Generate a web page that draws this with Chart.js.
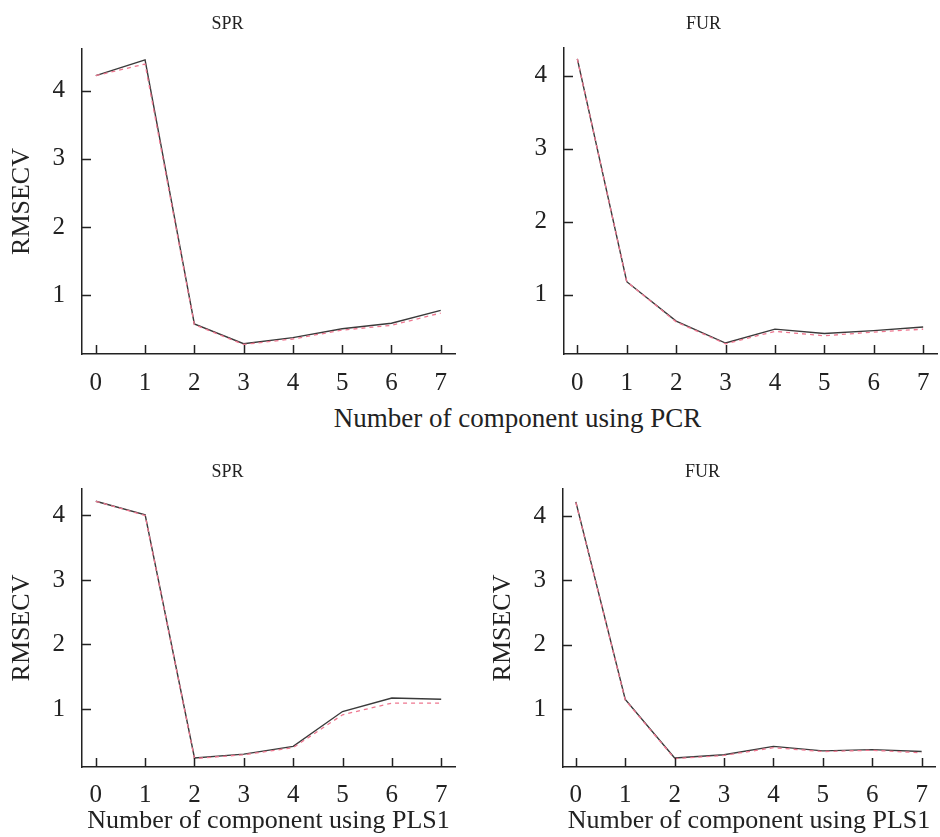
<!DOCTYPE html>
<html lang="en">
    <head>
        <meta charset="utf-8">
        <title>RMSECV - PCR / PLS1</title>
        <script type="text/javascript" src="https://cdn.jsdelivr.net/npm/chart.js@4.4.1/dist/chart.umd.min.js"></script>
		<style>
			body {margin: 0; background: #fff; font-family: "Liberation Serif", "Times New Roman", serif;}
			#page {position: relative; width: 940px; height: 837px; overflow: hidden;}
			.panel {position: absolute;}
			#pcrCaption {position: absolute; left: 0; top: 402px; width: 1035px; text-align: center; font-size: 27px; line-height: 32px; color: #222;}
		</style>
    </head>
    <body>
		<div id="page">
			<div class="panel" style="left: 0; top: 0"><canvas id="pcrSpr" width="470" height="400"></canvas></div>
			<div class="panel" style="left: 470px; top: 0"><canvas id="pcrFur" width="470" height="400"></canvas></div>
			<div id="pcrCaption">Number of component using PCR</div>
			<div class="panel" style="left: 0; top: 400px"><canvas id="plsSpr" width="470" height="437"></canvas></div>
			<div class="panel" style="left: 470px; top: 400px"><canvas id="plsFur" width="470" height="437"></canvas></div>
		</div>
        <script type="text/javascript">

		// valeurs (noir = ligne pleine, rouge = pointillés)
		const components = [0, 1, 2, 3, 4, 5, 6, 7];
		const yTickValues = [1, 2, 3, 4];

		const pcrSprBlack = [4.22, 4.45, 0.58, 0.29, 0.38, 0.51, 0.59, 0.78];
		const pcrSprRed   = [4.22, 4.39, 0.57, 0.28, 0.36, 0.49, 0.56, 0.74];
		const pcrFurBlack = [4.23, 1.18, 0.64, 0.34, 0.53, 0.47, 0.51, 0.56];
		const pcrFurRed   = [4.23, 1.18, 0.63, 0.33, 0.50, 0.44, 0.49, 0.53];
		const plsSprBlack = [4.22, 4.01, 0.24, 0.30, 0.42, 0.96, 1.17, 1.15];
		const plsSprRed   = [4.22, 4.00, 0.23, 0.29, 0.40, 0.91, 1.09, 1.09];
		const plsFurBlack = [4.22, 1.15, 0.24, 0.29, 0.42, 0.35, 0.37, 0.34];
		const plsFurRed   = [4.21, 1.14, 0.23, 0.28, 0.40, 0.34, 0.36, 0.32];

		const serif = '"Liberation Serif", "Times New Roman", serif';
		const axisColor = '#222';
		Chart.defaults.color = axisColor;
		Chart.defaults.font.family = serif;

		// petites graduations tournées vers l'intérieur
		const inwardTicks = {
			id: 'inwardTicks',
			afterDraw: function (chart) {
				const ctx = chart.ctx, area = chart.chartArea;
				const xs = chart.scales.x, ys = chart.scales.y;
				ctx.save();
				ctx.strokeStyle = axisColor;
				ctx.lineWidth = 1.5;
				ctx.beginPath();
				xs.ticks.forEach(function (t) {
					const px = Math.round(xs.getPixelForValue(t.value)) + 0.5;
					ctx.moveTo(px, area.bottom);
					ctx.lineTo(px, area.bottom - 9);
				});
				ys.ticks.forEach(function (t) {
					const py = Math.round(ys.getPixelForValue(t.value)) + 0.5;
					ctx.moveTo(area.left, py);
					ctx.lineTo(area.left + 9, py);
				});
				ctx.stroke();
				ctx.restore();
			}
		};

		function points(values) {
			return components.map(function (c, i) { return {x: c, y: values[i]}; });
		}

		function makePanel(id, cfg) {
			const ctx = document.getElementById(id).getContext('2d');
			return new Chart(ctx, {
				type: 'line',
				data: {
					datasets: [
						{
							data: points(cfg.red),
							borderColor: '#ee7790',
							borderWidth: 1.3,
							borderDash: [4, 4],
							pointRadius: 0,
							tension: 0
						},
						{
							data: points(cfg.black),
							borderColor: '#3a3a3a',
							borderWidth: 1.4,
							pointRadius: 0,
							tension: 0
						}
					]
				},
				options: {
					responsive: false,
					animation: false,
					layout: {padding: {top: 0, right: cfg.padRight, bottom: 0, left: 0}},
					plugins: {
						legend: {display: false},
						tooltip: {enabled: false},
						title: {
							display: true,
							text: cfg.title,
							color: axisColor,
							font: {family: serif, size: 18, weight: 'normal'},
							padding: {top: cfg.titleTop, bottom: cfg.titleBottom}
						}
					},
					scales: {
						x: {
							type: 'linear',
							min: cfg.xMin,
							max: cfg.xMax,
							afterBuildTicks: function (scale) {
								scale.ticks = components.map(function (v) { return {value: v}; });
							},
							afterFit: function (scale) { scale.height = cfg.xHeight; },
							grid: {display: false},
							border: {display: true, color: axisColor, width: 1.5},
							ticks: {font: {family: serif, size: 25}, color: axisColor, padding: cfg.xPad, maxRotation: 0},
							title: {
								display: !!cfg.xTitle,
								text: cfg.xTitle || '',
								color: axisColor,
								font: {family: serif, size: 26},
								padding: {top: 0, bottom: 0}
							}
						},
						y: {
							min: cfg.yMin,
							max: cfg.yMax,
							afterBuildTicks: function (scale) {
								scale.ticks = yTickValues.map(function (v) { return {value: v}; });
							},
							afterFit: function (scale) { scale.width = cfg.yWidth; },
							grid: {display: false},
							border: {display: true, color: axisColor, width: 1.5},
							ticks: {font: {family: serif, size: 25}, color: axisColor, padding: 9},
							title: {
								display: !!cfg.yTitle,
								text: cfg.yTitle || '',
								color: axisColor,
								font: {family: serif, size: 26},
								padding: {top: cfg.yTitleTop || 0, bottom: 0}
							}
						}
					}
				},
				plugins: [inwardTicks]
			});
		}

		makePanel('pcrSpr', {
			title: 'SPR', black: pcrSprBlack, red: pcrSprRed,
			titleTop: 13, titleBottom: 14.4, padRight: 15,
			xMin: -0.28, xMax: 7.29, yMin: 0.14, yMax: 4.61,
			xHeight: 46, xPad: 6.5, yWidth: 82, yTitle: 'RMSECV', yTitleTop: 7
		});
		makePanel('pcrFur', {
			title: 'FUR', black: pcrFurBlack, red: pcrFurRed,
			titleTop: 13, titleBottom: 13.4, padRight: 3,
			xMin: -0.27, xMax: 7.28, yMin: 0.19, yMax: 4.38,
			xHeight: 46, xPad: 6.5, yWidth: 94
		});
		makePanel('plsSpr', {
			title: 'SPR', black: plsSprBlack, red: plsSprRed,
			titleTop: 61.2, titleBottom: 6.2, padRight: 15,
			xMin: -0.28, xMax: 7.28, yMin: 0.10, yMax: 4.41,
			xHeight: 70, xPad: 5, yWidth: 82, yTitle: 'RMSECV', yTitleTop: 7,
			xTitle: 'Number of component using PLS1'
		});
		makePanel('plsFur', {
			title: 'FUR', black: plsFurBlack, red: plsFurRed,
			titleTop: 61.2, titleBottom: 6.2, padRight: 5,
			xMin: -0.26, xMax: 7.27, yMin: 0.10, yMax: 4.42,
			xHeight: 70, xPad: 5, yWidth: 93, yTitle: 'RMSECV', yTitleTop: 18,
			xTitle: 'Number of component using PLS1'
		});
        </script>
    </body>
</html>
